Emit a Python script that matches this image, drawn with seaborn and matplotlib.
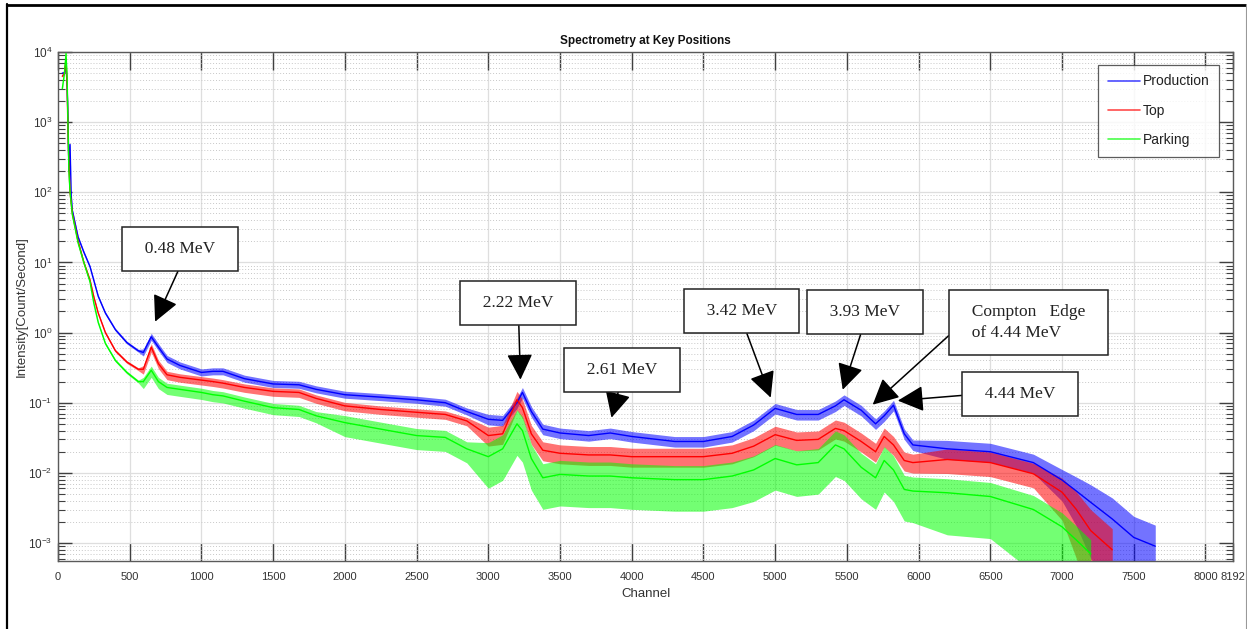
import numpy as np
import pandas as pd
import matplotlib
matplotlib.use("Agg")
import matplotlib.pyplot as plt
from matplotlib.lines import Line2D
import matplotlib.ticker as mticker
import seaborn as sns

# ---- spectrum samples (channel -> count rate, counts/s) ----
channel = [30, 45, 56, 64, 70, 76, 84, 92, 100, 140, 180, 223, 250, 280, 330, 400,
           480, 560, 595, 650, 700, 760, 850, 1000, 1080, 1150, 1300, 1500, 1680,
           1800, 2000, 2250, 2500, 2700, 2850, 3000, 3100, 3200, 3238, 3300, 3380,
           3500, 3700, 3850, 4000, 4300, 4500, 4700, 4850, 5000, 5150, 5300, 5420,
           5480, 5600, 5700, 5760, 5825, 5900, 5960, 6200, 6500, 6800, 7000, 7100,
           7200, 7350, 7500, 7650]

production = [5000, 5000, 7000, 3000, 1100, 200, 480, 90, 55, 23, 14, 8.7, 5.5, 3.3,
              1.9, 1.1, 0.72, 0.55, 0.52, 0.87, 0.62, 0.42, 0.34, 0.27, 0.28, 0.28,
              0.22, 0.185, 0.18, 0.155, 0.13, 0.12, 0.11, 0.10, 0.075, 0.058, 0.056,
              0.10, 0.14, 0.075, 0.042, 0.037, 0.034, 0.037, 0.033, 0.028, 0.028,
              0.033, 0.048, 0.083, 0.068, 0.068, 0.09, 0.11, 0.078, 0.05, 0.065,
              0.092, 0.036, 0.025, 0.022, 0.020, 0.014, 0.0079, 0.0055, 0.0038,
              0.0022, 0.0012, 0.0009]

top = [4500, 5000, 8000, 3000, 700, 250, 100, 70, 50, 20, 10, 5.6, 3.2, 1.9, 1.0,
       0.55, 0.38, 0.30, 0.30, 0.62, 0.36, 0.25, 0.23, 0.21, 0.20, 0.19, 0.165,
       0.145, 0.14, 0.115, 0.09, 0.08, 0.073, 0.068, 0.055, 0.034, 0.036, 0.11,
       0.085, 0.036, 0.021, 0.019, 0.018, 0.018, 0.017, 0.017, 0.017, 0.019,
       0.024, 0.035, 0.029, 0.030, 0.043, 0.040, 0.028, 0.020, 0.033, 0.025,
       0.015, 0.014, 0.0155, 0.014, 0.0097, 0.0053, 0.0030, 0.0015, 0.0008,
       np.nan, np.nan]

parking = [3000, 5000, 9500, 4000, 800, 200, 100, 70, 48, 19, 10, 5.3, 2.6, 1.4,
           0.7, 0.4, 0.27, 0.20, 0.20, 0.29, 0.20, 0.165, 0.155, 0.14, 0.13, 0.125,
           0.105, 0.085, 0.08, 0.065, 0.052, 0.042, 0.034, 0.032, 0.022, 0.017,
           0.022, 0.05, 0.04, 0.016, 0.0085, 0.0095, 0.009, 0.009, 0.0085, 0.008,
           0.008, 0.009, 0.011, 0.016, 0.013, 0.014, 0.025, 0.022, 0.012, 0.0085,
           0.015, 0.011, 0.0058, 0.0055, 0.0052, 0.0046, 0.0030, 0.0017, 0.0011,
           0.0007, np.nan, np.nan, np.nan]

# counting-noise spread around each trace, in decades (below, above)
production_dn = [0.02]*18 + [0.05]*17 + [0.08]*25 + [0.15]*3 + [0.3, 0.5, 0.8, 1.0, 1.2, 1.2]
production_up = [0.02]*18 + [0.05]*17 + [0.07]*25 + [0.12]*3 + [0.15, 0.2, 0.25, 0.3, 0.3, 0.3]
top_dn = [0.02]*18 + [0.07]*17 + [0.15]*25 + [0.2]*3 + [0.4, 0.7, 1.0, 1.2, 1.2, 1.2]
top_up = [0.02]*18 + [0.05]*17 + [0.12]*25 + [0.15]*3 + [0.2, 0.25, 0.3, 0.3, 0.3, 0.3]
parking_dn = [0.02]*18 + [0.1]*12 + [0.2]*5 + [0.45]*25 + [0.6, 0.6, 0.9, 1.2, 1.2, 1.2, 1.2, 1.2, 1.2]
parking_up = [0.02]*18 + [0.06]*12 + [0.1]*5 + [0.2]*25 + [0.2]*9

series = ["Production", "Top", "Parking"]
colors = {"Production": "#0000ff", "Top": "#ff0000", "Parking": "#00ff00"}

x_ticks = [0, 500, 1000, 1500, 2000, 2500, 3000, 3500, 4000, 4500, 5000, 5500,
           6000, 6500, 7000, 7500, 8000, 8192]

# peak labels: (text lines, arrow tip channel, tip value, box channel, box value, arrow start on box)
labels = [
    (["0.48 MeV"], 677, 1.43, 851, 15.6, (0.55, 0.0)),
    (["2.22 MeV"], 3224, 0.213, 3210, 2.61, (0.5, 0.0)),
    (["2.61 MeV"], 3859, 0.0611, 3932, 0.295, (0.5, 0.0)),
    (["3.42 MeV"], 4969, 0.118, 4766, 2.01, (0.5, 0.0)),
    (["3.93 MeV"], 5471, 0.153, 5628, 1.95, (0.5, 0.0)),
    (["Compton   Edge", "of 4.44 MeV"], 5680, 0.0937, 6766, 1.38, (0.0, 0.5)),
    (["4.44 MeV"], 5855, 0.107, 6710, 0.132, (0.0, 0.5)),
]

# ---- styling ----
sns.set_theme(style="white")
sans = ["Liberation Sans", "DejaVu Sans"]
plt.rcParams["font.family"] = sans
plt.rcParams["mathtext.fontset"] = "custom"
plt.rcParams["mathtext.rm"] = "Liberation Sans"
plt.rcParams["mathtext.it"] = "Liberation Sans"
plt.rcParams["mathtext.default"] = "regular"

fig = plt.figure(figsize=(12.47, 6.29), dpi=100)
ax = fig.add_axes([58 / 1247, 1 - 561 / 629, (1233 - 58) / 1247, (561 - 52) / 629])

df = pd.DataFrame({"Channel": channel, "Production": production,
                   "Top": top, "Parking": parking})
long = df.melt(id_vars="Channel", var_name="Position", value_name="Rate")

spreads = {"Production": (production_dn, production_up),
           "Top": (top_dn, top_up),
           "Parking": (parking_dn, parking_up)}

for name in series:
    y = np.asarray(df[name], dtype=float)
    dn, up = spreads[name]
    ax.fill_between(df["Channel"], y * 10 ** (-np.asarray(dn)), y * 10 ** np.asarray(up),
                    color=colors[name], alpha=0.55, linewidth=0, zorder=2)

sns.lineplot(data=long, x="Channel", y="Rate", hue="Position", hue_order=series,
             palette=colors, estimator=None, sort=False, linewidth=1.0,
             legend=False, ax=ax, zorder=3)

ax.set_yscale("log")
ax.set_xlim(0, 8192)
ax.set_ylim(10 ** -3.257, 1e4)
ax.set_xticks(x_ticks)
ax.set_xticklabels([str(t) for t in x_ticks])
ax.yaxis.set_major_locator(mticker.LogLocator(base=10, numticks=10))
ax.yaxis.set_minor_locator(mticker.LogLocator(base=10, subs=np.arange(2, 10), numticks=20))
ax.yaxis.set_minor_formatter(mticker.NullFormatter())

ax.grid(True, which="major", color="#dedede", linewidth=0.9, linestyle="-")
ax.grid(True, which="minor", axis="y", color="#c8c8c8", linewidth=0.7, linestyle=(0, (1, 2)))
ax.set_axisbelow(True)

for s in ax.spines.values():
    s.set_color("#5a5a5a")
    s.set_linewidth(1.0)
    s.set_visible(True)

ax.tick_params(axis="x", which="major", direction="in", length=13, width=1.0,
               color="#404040", top=True, bottom=True, labelsize=8,
               labelcolor="#333333", pad=8)
ax.tick_params(axis="y", which="major", direction="in", length=10, width=1.0,
               color="#404040", left=True, right=True, labelsize=8.5,
               labelcolor="#333333", pad=4)
ax.tick_params(axis="y", which="minor", direction="in", length=5, width=0.8,
               color="#404040", left=True, right=True)

ax.set_title("Spectrometry at Key Positions", fontsize=8.5, fontweight="bold",
             color="#111111", pad=6)
ax.set_xlabel("Channel", fontsize=9.5, color="#333333", labelpad=4)
ax.set_ylabel("Intensity[Count/Second]", fontsize=9.5, color="#333333")
ax.yaxis.set_label_coords(-0.0255, 0.5)

handles = [Line2D([0], [0], color=colors[n], lw=1.2, alpha=0.7) for n in series]
leg = ax.legend(handles, series, loc="upper right", bbox_to_anchor=(0.9885, 0.975),
                fontsize=10, frameon=True, fancybox=False, borderpad=0.7,
                labelspacing=1.1, handlelength=2.3, handletextpad=0.25,
                edgecolor="#333333", borderaxespad=0)
leg.get_frame().set_linewidth(0.9)
for t in leg.get_texts():
    t.set_color("#222222")

# boxed peak labels; an en space on each side widens the box a little
for lines, tx, ty, bx, by, rel in labels:
    text = "\n".join("\u2002" + ln + "\u2002" for ln in lines)
    ax.annotate(text, xy=(tx, ty), xytext=(bx, by), xycoords="data", textcoords="data",
                ha="center", va="center", multialignment="left",
                fontsize=12.5, family=["Liberation Serif", "DejaVu Serif"],
                color="#222222", linespacing=1.45,
                bbox=dict(boxstyle="square,pad=0.8", fc="white", ec="#222222", lw=1.1),
                arrowprops=dict(arrowstyle="-|>,head_length=1.0,head_width=0.5",
                                mutation_scale=16, color="black", lw=1.1,
                                shrinkA=0, shrinkB=0, relpos=rel),
                zorder=5)

# outer frame lines
fig.add_artist(Line2D([7 / 1247, 7 / 1247], [0, 1 - 4 / 629], color="black", lw=1.6))
fig.add_artist(Line2D([7 / 1247, 1], [1 - 4.5 / 629, 1 - 4.5 / 629], color="black", lw=2.0))
fig.add_artist(Line2D([1245.5 / 1247, 1245.5 / 1247], [0, 1 - 4 / 629], color="#999999", lw=0.8))

fig.savefig("out.png", dpi=100, facecolor="white")
